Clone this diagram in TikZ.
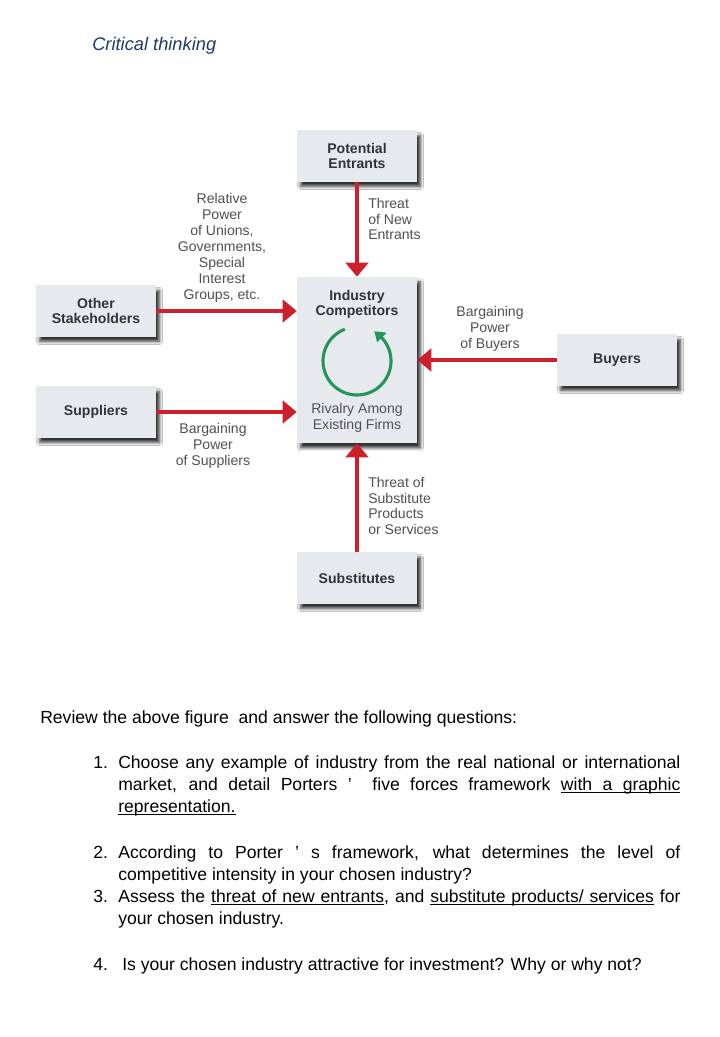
\documentclass[tikz,border=0pt]{standalone}
\usepackage{fontspec}
\setmainfont{Liberation Sans}
\newfontfamily\qfont{Liberation Sans}
\usetikzlibrary{arrows.meta,bending,positioning,shadows.blur}
\definecolor{boxfill}{RGB}{230,234,239}
\definecolor{forcered}{RGB}{204,32,44}
\definecolor{labelgray}{RGB}{80,80,80}
\definecolor{rivalgreen}{RGB}{35,150,85}
\definecolor{titleblue}{RGB}{31,56,110}
\newcommand\ulword[1]{\leavevmode\setbox0\hbox{#1}\rlap{\rule[-2.2pt]{\wd0}{0.6pt}}\box0\relax}
\newcommand\ulspace{\leaders\hrule height -1.6pt depth 2.2pt\hskip\fontdimen2\font plus \fontdimen3\font minus \fontdimen4\font}
\tikzset{
  force/.style={fill=boxfill, blur shadow={shadow xshift=2.5pt, shadow yshift=-3.5pt, shadow blur steps=6, shadow opacity=80}, font=\fontsize{10}{10.8}\selectfont\bfseries, text=black!80, align=center, minimum width=3cm, minimum height=1.28cm},
  pull/.style={-{Triangle[length=10pt,width=16pt]}, line width=3.5pt, forcered},
  lbl/.style={font=\fontsize{10}{11.3}\selectfont, text=labelgray, align=center, inner sep=0pt},
  qtext/.style={anchor=base west, inner sep=0pt, font=\qfont\fontsize{12.5}{15.6}\selectfont},
}
\begin{document}
\begin{tikzpicture}[x=0.025cm, y=-0.025cm]
    \fill[white] (0,0) rectangle (720,1037);
    \useasboundingbox (0,0) rectangle (720,1037);
    \node[anchor=base west, inner sep=0pt, font=\fontsize{13}{15}\selectfont\itshape, text=titleblue] (title) at (92,51) {Critical thinking};
    \node[force] (pe) at (357,156) {Potential\\Entrants};
    \node[force, minimum height=4.15cm] (ic) at (357,360) {};
    \node[force] (os) at (96,311) {Other\\Stakeholders};
    \node[force] (sup) at (96,412) {Suppliers};
    \node[force] (buy) at (617,360) {Buyers};
    \node[force] (sub) at (357,578) {Substitutes};
    \node[font=\fontsize{10}{10.8}\selectfont\bfseries, text=black!80, align=center] (ictitle) at (357,304) {Industry\\Competitors};
    \node[lbl] (rivalry) at (357,418) {Rivalry Among\\Existing Firms};
    \coordinate (cyc) at (357,361);
    \draw[rivalgreen, line width=2.2pt, -{Triangle[length=7pt,width=9pt,bend]}] (cyc) ++(-111:34) arc[start angle=-111, end angle=-420, radius=34];
    \draw[pull] (pe.south) -- (ic.north);
    \draw[pull] (os.east) -- (os.east -| ic.west);
    \draw[pull] (sup.east) -- (sup.east -| ic.west);
    \draw[pull] (buy.west) -- (ic.east);
    \draw[pull] (sub.north) -- (ic.south);
    \node[lbl] (unionslbl) at (222,248) {Relative\\Power\\of Unions,\\Governments,\\Special\\Interest\\Groups, etc.};
    \node[lbl, align=left, anchor=west] (entrantslbl) at (368,219) {Threat\\of New\\Entrants};
    \node[lbl] (buyerslbl) at (490,329) {Bargaining\\Power\\of Buyers};
    \node[lbl] (supplierslbl) at (213,446) {Bargaining\\Power\\of Suppliers};
    \node[lbl, align=left, anchor=west] (substituteslbl) at (368,506) {Threat of\\Substitute\\Products\\or Services};
    \node[qtext] (review) at (40,723) {Review the above figure\ \ and answer the following questions:};
    \node[qtext] (n1) at (93,768) {1.};
    \node[qtext] (q1a) at (118,768) {\makebox[14.05cm][s]{Choose any example of industry from the real national or international}};
    \node[qtext] (q1b) at (118,790) {\makebox[14.05cm][s]{market, and detail Porters ’\ \ five forces framework \ulword{with}\ulspace\ulword{a}\ulspace\ulword{graphic}}};
    \node[qtext] (q1c) at (118,812) {\ulword{representation.}};
    \node[qtext] (n2) at (93,858) {2.};
    \node[qtext] (q2a) at (118,858) {\makebox[14.05cm][s]{According to Porter ’ s framework, what determines the level of}};
    \node[qtext] (q2b) at (118,880) {competitive intensity in your chosen industry?};
    \node[qtext] (n3) at (93,902) {3.};
    \node[qtext] (q3a) at (118,902) {\makebox[14.05cm][s]{Assess the \ulword{threat}\ulspace\ulword{of}\ulspace\ulword{new}\ulspace\ulword{entrants}, and \ulword{substitute}\ulspace\ulword{products/}\ulspace\ulword{services} for}};
    \node[qtext] (q3b) at (118,924) {your chosen industry.};
    \node[qtext] (n4) at (93,970) {4.};
    \node[qtext] (q4) at (122,970) {Is your chosen industry attractive for investment? Why or why not?};
\end{tikzpicture}
\end{document}
